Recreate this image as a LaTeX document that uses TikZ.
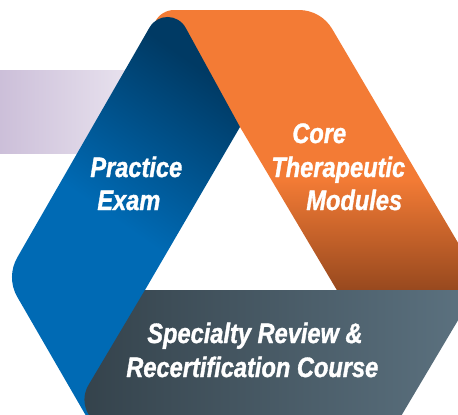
\documentclass[tikz,border=0pt]{standalone}
\usepackage{fontspec}
\setmainfont{Liberation Sans}[FakeStretch=0.84, BoldItalicFeatures={FakeBold=1.2}]
\definecolor{lilac}{RGB}{204,191,217}
\definecolor{lilacpale}{RGB}{240,236,244}
\definecolor{bluemain}{RGB}{0,106,180}
\definecolor{bluedeep}{RGB}{0,58,100}
\definecolor{orangemain}{RGB}{243,123,53}
\definecolor{orangedeep}{RGB}{150,72,30}
\definecolor{slateleft}{RGB}{52,66,75}
\definecolor{slateright}{RGB}{92,114,128}
\pgfdeclareverticalshading{orangefade}{100bp}{color(0bp)=(orangedeep); color(25bp)=(orangedeep); color(45bp)=(orangemain); color(100bp)=(orangemain)}
\begin{document}
\begin{tikzpicture}[x=0.02cm, y=-0.02cm,
    bandlabel/.style={text=white, font=\fontsize{16}{19}\selectfont\bfseries\itshape, inner sep=0pt, anchor=base west}]
  \useasboundingbox (0,0) rectangle (458,414);
  \clip (0,0) rectangle (458,414);
  % lilac strip behind the blue band
  \shade[left color=lilac, right color=lilacpale] (0,70) rectangle (165,153);
  % orange band
  \shade[shading=orangefade] (155.2,21.6) .. controls (158.7,14.6) and (166.2,10) .. (174,10)
    -- (299,10) .. controls (312.6,10) and (325.3,17.2) .. (332.2,29)
    -- (487,292) -- (338,292) -- (240,127) -- (140,52) -- cycle;
  % blue band, folds over the orange one
  \shade[top color=bluedeep, bottom color=bluemain, middle color=bluemain, shading angle=-35]
    (149.5,27.5) .. controls (157.7,13.3) and (177.9,13.5) .. (185.8,28)
    -- (240,127) -- (145,290) -- (160,440) -- (100,440)
    -- (17.1,296.6) .. controls (10.2,284.4) and (10.3,269.6) .. (17.25,257.5) -- cycle;
  % slate band at the bottom
  \shade[left color=slateleft, right color=slateright]
    (145,290) -- (458,290) .. controls (466,290) and (470.9,298.6) .. (466.8,305.5)
    -- (394,428) -- (113,428) .. controls (90.75,428) and (77.2,404.1) .. (88.5,385) -- cycle;
  % labels
  \node[bandlabel] (practice) at (90,177) {Practice};
  \node[bandlabel] (exam) at (97,210) {Exam};
  \node[bandlabel] (core) at (292,143) {Core};
  \node[bandlabel] (therapeutic) at (271,177) {Therapeutic};
  \node[bandlabel] (modules) at (306,210) {Modules};
  \node[bandlabel] (specialty) at (147,343) {Specialty Review \&};
  \node[bandlabel] (recert) at (126,377) {Recertification Course};
\end{tikzpicture}
\end{document}
